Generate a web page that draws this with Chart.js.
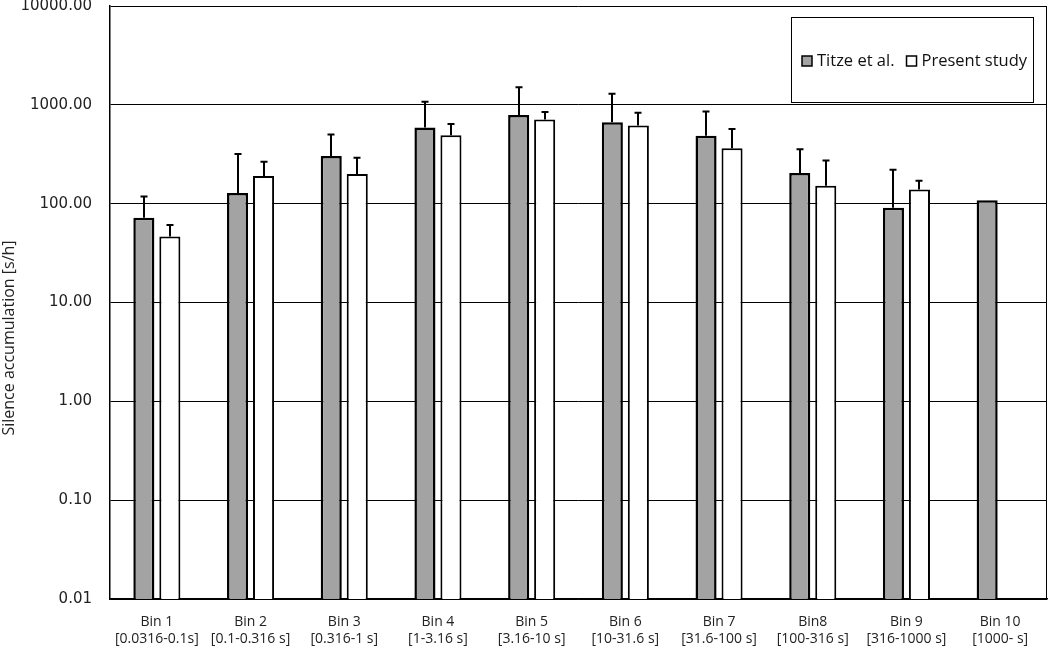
<!DOCTYPE html>
<html><head><meta charset="utf-8">
<script src="https://cdn.jsdelivr.net/npm/chart.js@4"></script>
<style>html,body{margin:0;padding:0;background:#fff}#wrap{width:1050px;height:647px}</style>
</head><body><div id="wrap"><canvas id="c" width="1050" height="647"></canvas></div>
<script>
const categories = [
  ["Bin 1", "[0.0316-0.1s]"],
  ["Bin 2", "[0.1-0.316 s]"],
  ["Bin 3", "[0.316-1 s]"],
  ["Bin 4", "[1-3.16 s]"],
  ["Bin 5", "[3.16-10 s]"],
  ["Bin 6", "[10-31.6 s]"],
  ["Bin 7", "[31.6-100 s]"],
  ["Bin8", "[100-316 s]"],
  ["Bin 9", "[316-1000 s]"],
  ["Bin 10", "[1000- s]"]
];
const titzeValues   = [72, 128, 303, 589, 787, 668, 486, 204, 91, 108];
const titzeErrTop   = [118, 319, 500, 1072, 1510, 1292, 855, 356, 220, null];
const presentValues = [46.5, 191, 200, 493, 710, 617, 364, 152, 139, null];
const presentErrTop = [61, 265, 291, 638, 844, 830, 571, 273, 171, null];
const yTicks = [0.01, 0.1, 1, 10, 100, 1000, 10000];
const seriesNames = ["Titze et al.", "Present study"];
const yTitle = "Silence accumulation [s/h]";

const errTops = [titzeErrTop, presentErrTop];

const errorBarPlugin = {
  id: 'errorBars',
  afterDatasetsDraw(chart) {
    const ctx = chart.ctx, y = chart.scales.y;
    ctx.save();
    ctx.strokeStyle = '#000';
    ctx.lineWidth = 2;
    chart.data.datasets.forEach((ds, di) => {
      const meta = chart.getDatasetMeta(di);
      meta.data.forEach((bar, i) => {
        const top = errTops[di][i];
        if (top == null || ds.data[i] == null) return;
        const x = Math.round(bar.x);
        const y0 = bar.y;
        const y1 = y.getPixelForValue(top);
        ctx.beginPath();
        ctx.moveTo(x, y0); ctx.lineTo(x, y1);
        ctx.moveTo(x - 3.5, y1); ctx.lineTo(x + 3.5, y1);
        ctx.stroke();
      });
    });
    ctx.restore();
  }
};

const framePlugin = {
  id: 'frame',
  afterDraw(chart) {
    const ctx = chart.ctx, a = chart.chartArea;
    ctx.save();
    ctx.strokeStyle = '#000';
    ctx.lineWidth = 1;
    ctx.beginPath();
    ctx.moveTo(a.right - 0.5, a.top); ctx.lineTo(a.right - 0.5, a.bottom);
    ctx.stroke();
    // y axis title
    ctx.save();
    ctx.translate(9, 338);
    ctx.rotate(-Math.PI / 2);
    ctx.font = '16px "Open Sans", sans-serif';
    ctx.fillStyle = '#222';
    ctx.textAlign = 'center';
    ctx.textBaseline = 'middle';
    ctx.fillText(yTitle, 0, 0);
    ctx.restore();
    // legend box
    const bx = 791, by = 17, bw = 242, bh = 85;
    ctx.fillStyle = '#fff';
    ctx.fillRect(bx, by, bw, bh);
    ctx.strokeRect(bx + 0.5, by + 0.5, bw, bh);
    ctx.font = '16.5px "Open Sans", sans-serif';
    ctx.textBaseline = 'middle';
    ctx.textAlign = 'left';
    const cy = 61;
    let x = 802;
    chart.data.datasets.forEach((ds, di) => {
      ctx.fillStyle = ds.backgroundColor;
      ctx.fillRect(x, cy - 5, 10, 10);
      ctx.lineWidth = 1.5;
      ctx.strokeStyle = '#000';
      ctx.strokeRect(x, cy - 5, 10, 10);
      ctx.fillStyle = '#111';
      ctx.fillText(ds.label, x + 15, cy);
      x += 15 + ctx.measureText(ds.label).width + 12;
    });
    ctx.restore();
  }
};

new Chart(document.getElementById('c'), {
  type: 'bar',
  data: {
    labels: categories,
    datasets: [
      { label: seriesNames[0], data: titzeValues, backgroundColor: '#a3a3a3', borderColor: '#000', borderWidth: 2.5 },
      { label: seriesNames[1], data: presentValues, backgroundColor: '#ffffff', borderColor: '#000', borderWidth: 2 }
    ]
  },
  options: {
    responsive: false,
    animation: false,
    layout: { padding: { top: 6, right: 3, left: 0, bottom: 0 } },
    datasets: { bar: { categoryPercentage: 0.555, barPercentage: 0.81 } },
    plugins: { legend: { display: false }, tooltip: { enabled: false } },
    scales: {
      x: {
        grid: { display: false },
        border: { display: true, color: '#000', width: 1.5 },
        ticks: { color: '#222', font: { family: '"Open Sans", sans-serif', size: 14, lineHeight: 1.22 }, padding: 6, maxRotation: 0, autoSkip: false },
        afterFit(s) { s.height = 48; s.paddingLeft = 0; s.paddingRight = 0; }
      },
      y: {
        type: 'logarithmic',
        min: 0.01, max: 10000,
        afterBuildTicks(s) { s.ticks = yTicks.map(v => ({ value: v })); },
        grid: { color: '#000', lineWidth: 1, drawTicks: false },
        border: { display: true, color: '#000', width: 1.5 },
        ticks: { color: '#222', font: { family: '"DejaVu Sans", sans-serif', size: 15 }, padding: 18,
          callback: v => Number(v).toFixed(2) },
        title: { display: false },
        afterFit(s) { s.width = 110; s.paddingTop = 0; s.paddingBottom = 0; }
      }
    }
  },
  plugins: [errorBarPlugin, framePlugin]
});
</script></body></html>
